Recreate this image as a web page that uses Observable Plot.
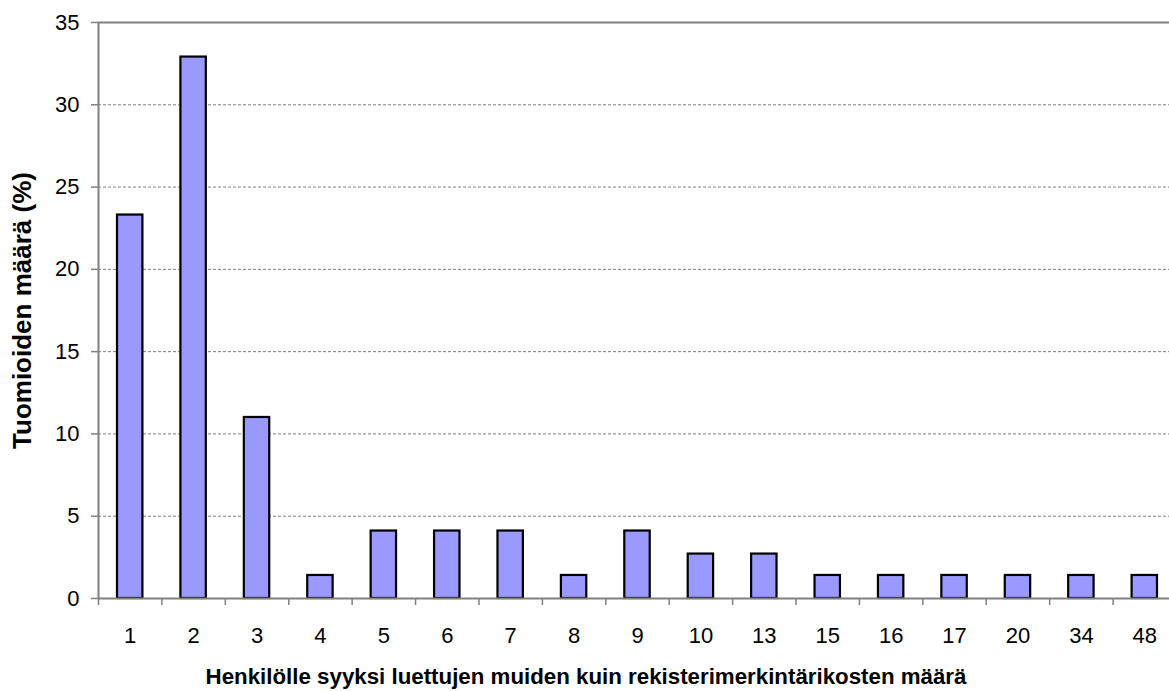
<!DOCTYPE html>
<html>
<head>
<meta charset="utf-8">
<script src="https://cdn.jsdelivr.net/npm/d3@7"></script>
<script src="https://cdn.jsdelivr.net/npm/@observablehq/plot@0.6"></script>
<style>
  html, body { margin: 0; padding: 0; background: #fff; }
</style>
</head>
<body>
<div id="chart"></div>
<script>
const categories = ["1", "2", "3", "4", "5", "6", "7", "8", "9", "10", "13", "15", "16", "17", "20", "34", "48"];
const values = [23.3, 32.9, 11.0, 1.4, 4.1, 4.1, 4.1, 1.4, 4.1, 2.7, 2.7, 1.4, 1.4, 1.4, 1.4, 1.4, 1.4];
const yTicks = [0, 5, 10, 15, 20, 25, 30, 35];
const xTitle = "Henkilölle syyksi luettujen muiden kuin rekisterimerkintärikosten määrä";
const yTitle = "Tuomioiden määrä (%)";

const data = categories.map((c, i) => ({i, c, v: values[i]}));
const n = categories.length;
const gray = "#808080";

const chart = Plot.plot({
  width: 1169,
  height: 691,
  marginLeft: 98,
  marginRight: 0,
  marginTop: 22,
  marginBottom: 93,
  style: {fontFamily: "'Liberation Sans', Arial, sans-serif", fontSize: "22px", color: "#000", background: "#fff", overflow: "hidden"},
  x: {type: "linear", domain: [0, n], range: [98, 1176], axis: null},
  y: {domain: [0, 35], axis: null},
  marks: [
    Plot.ruleY(yTicks.filter(t => t > 0 && t < 35), {stroke: gray, strokeWidth: 1, strokeDasharray: "3,2"}),
    Plot.ruleY([35], {stroke: gray, strokeWidth: 2}),
    Plot.rectY(data, {x1: d => d.i, x2: d => d.i + 1, y1: 0, y2: "v", insetLeft: 19, insetRight: 19, fill: "#9999FF", stroke: "#000", strokeWidth: 2.2}),
    Plot.ruleX([0], {stroke: gray, strokeWidth: 2}),
    Plot.ruleY([0], {stroke: gray, strokeWidth: 2}),
    Plot.axisY({ticks: yTicks, tickSize: 7, tickPadding: 12, stroke: gray, strokeWidth: 1.5, strokeOpacity: 1, fill: "#000", fontSize: 22, label: null}),
    Plot.axisX({ticks: d3.range(n + 1), tickSize: 7, tickFormat: () => "", stroke: gray, strokeWidth: 1.5, strokeOpacity: 1, label: null}),
    Plot.axisX({ticks: categories.map((c, i) => i + 0.5), tickSize: 0, tickPadding: 29, tickFormat: t => categories[Math.floor(t)], fill: "#000", fontSize: 22, label: null}),
    Plot.text([xTitle], {frameAnchor: "bottom", textAnchor: "middle", dx: -48, dy: 78, lineAnchor: "middle", fontWeight: "bold", fontSize: 22.3, fill: "#000"}),
    Plot.text([yTitle], {frameAnchor: "left", textAnchor: "middle", dx: -76, rotate: -90, lineAnchor: "middle", fontWeight: "bold", fontSize: 26, fill: "#000"})
  ]
});
document.getElementById("chart").appendChild(chart);
</script>
</body>
</html>
